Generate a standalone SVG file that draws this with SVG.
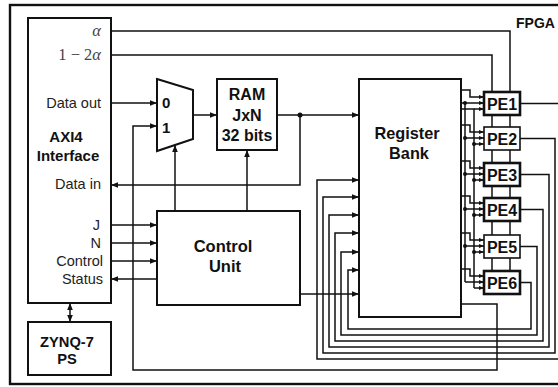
<svg xmlns="http://www.w3.org/2000/svg" width="558" height="387" viewBox="0 0 558 387">
<defs>
<marker id="ah" viewBox="0 0 10 10" refX="10" refY="5" markerWidth="7" markerHeight="7" orient="auto-start-reverse" markerUnits="userSpaceOnUse"><path d="M0,1 L10,5 L0,9 z" fill="#111"/></marker>
<marker id="as" viewBox="0 0 10 10" refX="10" refY="5" markerWidth="5" markerHeight="5" orient="auto" markerUnits="userSpaceOnUse"><path d="M0,1 L10,5 L0,9 z" fill="#111"/></marker>
<style>
.ln{fill:none;stroke:#111;stroke-width:1.5}
.a{marker-end:url(#ah)}
.s{marker-end:url(#as)}
.bx{fill:#fff;stroke:#111;stroke-width:2}
.pe{fill:#fff;stroke:#111;stroke-width:2.6}
.pt{fill:#fff;stroke:#111;stroke-width:1.6}
.t{font-family:"Liberation Sans",Arial,sans-serif;font-size:14.5px;fill:#222}
.b{font-family:"Liberation Sans",Arial,sans-serif;font-weight:bold;fill:#111}
.m{font-family:"Liberation Serif","Times New Roman",serif;font-size:16.5px;fill:#444}
.dot{fill:#111}
</style>
</defs>
<rect width="558" height="387" fill="#fff"/>
<g id="fpga">
<rect x="10" y="5" width="560" height="379" fill="none" stroke="#111" stroke-width="2.4"/>
<text class="b" x="516" y="28" font-size="14">FPGA</text>
</g>
<g id="connectors">
<path class="ln" d="M111,31 H510 V271"/>
<path class="ln" d="M111,55 H492 V271"/>
<path class="ln a" d="M111,103 H157"/>
<path class="ln a" d="M193,115 H217"/>
<path class="ln a" d="M277,115 H359"/>
<circle class="dot" cx="300" cy="115" r="2.5"/>
<path class="ln a" d="M300,115 V185 H111"/>
<path class="ln a" d="M175,211 V145"/>
<path class="ln a" d="M247,211 V150"/>
<path class="ln a" d="M111,225 H157"/>
<path class="ln a" d="M111,243 H157"/>
<path class="ln a" d="M111,261 H157"/>
<path class="ln a" d="M157,279 H111"/>
<path class="ln a" style="marker-start:url(#ah)" d="M70,303 V322"/>
<path class="ln a" d="M300,294 H359"/>
<path class="ln a" d="M461,304 H497 V370 H133 V126 H157"/>
<path class="ln a" d="M520,103.5 H566 V359 H317 V180 H359"/>
<path class="ln a" d="M520,138.5 H555 V353 H323 V197 H359"/>
<path class="ln a" d="M520,174.5 H549 V347 H329 V215 H359"/>
<path class="ln a" d="M520,209.5 H543 V341 H335 V233 H359"/>
<path class="ln a" d="M520,246.5 H537 V335 H341 V252 H359"/>
<path class="ln a" d="M520,282.5 H531 V329 H348 V270 H359"/>
<path class="ln" d="M465,103 V282"/>
<path class="ln" d="M461,109 H474 V288"/>
<path class="ln s" d="M461,90 H470 V97 H484"/>
<path class="ln s" d="M461,103 H484"/>
<path class="ln s" d="M474,109 H484"/>
<path class="ln s" d="M461,125 H470 V132 H484"/>
<path class="ln s" d="M465,138 H484"/>
<path class="ln s" d="M474,144 H484"/>
<path class="ln s" d="M461,161 H470 V168 H484"/>
<path class="ln s" d="M465,174 H484"/>
<path class="ln s" d="M474,180 H484"/>
<path class="ln s" d="M461,196 H470 V203 H484"/>
<path class="ln s" d="M465,209 H484"/>
<path class="ln s" d="M474,215 H484"/>
<path class="ln s" d="M461,233 H470 V240 H484"/>
<path class="ln s" d="M465,246 H484"/>
<path class="ln s" d="M474,252 H484"/>
<path class="ln s" d="M461,269 H470 V276 H484"/>
<path class="ln s" d="M465,282 H484"/>
<path class="ln s" d="M474,288 H484"/>
<circle class="dot" cx="465" cy="103" r="2"/>
<circle class="dot" cx="465" cy="138" r="2"/>
<circle class="dot" cx="465" cy="174" r="2"/>
<circle class="dot" cx="465" cy="209" r="2"/>
<circle class="dot" cx="465" cy="246" r="2"/>
<circle class="dot" cx="474" cy="144" r="2"/>
<circle class="dot" cx="474" cy="180" r="2"/>
<circle class="dot" cx="474" cy="215" r="2"/>
<circle class="dot" cx="474" cy="252" r="2"/>
</g>
<g id="axi4">
<rect class="bx" x="28" y="18" width="83" height="285"/>
<text class="m" x="101" y="36" text-anchor="end" font-style="italic">α</text>
<text class="m" x="101" y="60" text-anchor="end">1 − 2<tspan font-style="italic">α</tspan></text>
<text class="t" x="101" y="108" text-anchor="end">Data out</text>
<text class="b" x="66" y="142" font-size="15" text-anchor="middle">AXI4</text>
<text class="b" x="68" y="161" font-size="15" text-anchor="middle">Interface</text>
<text class="t" x="101" y="189" text-anchor="end">Data in</text>
<text class="t" x="100" y="230" text-anchor="end">J</text>
<text class="t" x="101" y="248" text-anchor="end">N</text>
<text class="t" x="103" y="266" text-anchor="end">Control</text>
<text class="t" x="103" y="284" text-anchor="end">Status</text>
</g>
<g id="zynq">
<rect class="bx" x="28" y="322" width="83" height="53"/>
<text class="b" x="67" y="347" font-size="14.7" text-anchor="middle">ZYNQ-7</text>
<text class="b" x="67" y="364" font-size="14.7" text-anchor="middle">PS</text>
</g>
<g id="mux">
<polygon class="bx" points="157,79 193,90 193,139 157,151"/>
<text class="b" x="162" y="108" font-size="15">0</text>
<text class="b" x="162" y="133" font-size="15">1</text>
</g>
<g id="ram">
<rect class="bx" x="217" y="79" width="60" height="71"/>
<text class="b" x="247" y="100" font-size="16" text-anchor="middle">RAM</text>
<text class="b" x="247" y="121" font-size="16" text-anchor="middle">JxN</text>
<text class="b" x="247" y="141" font-size="16" text-anchor="middle">32 bits</text>
</g>
<g id="control-unit">
<rect class="bx" x="157" y="211" width="143" height="94"/>
<text class="b" x="223" y="252" font-size="16.5" text-anchor="middle">Control</text>
<text class="b" x="225" y="272" font-size="16.5" text-anchor="middle">Unit</text>
</g>
<g id="register-bank">
<rect class="bx" x="359" y="79" width="102" height="238"/>
<text class="b" x="407" y="139" font-size="16.3" text-anchor="middle">Register</text>
<text class="b" x="409" y="159" font-size="16.3" text-anchor="middle">Bank</text>
</g>
<g id="pe1"><rect class="pe" x="484" y="92" width="36" height="23"/><text class="b" x="502" y="110" font-size="16" text-anchor="middle">PE1</text></g>
<g id="pe2"><rect class="pt" x="484" y="127" width="36" height="23"/><text class="b" x="502" y="145" font-size="16" text-anchor="middle">PE2</text></g>
<g id="pe3"><rect class="pe" x="484" y="163" width="36" height="23"/><text class="b" x="502" y="181" font-size="16" text-anchor="middle">PE3</text></g>
<g id="pe4"><rect class="pe" x="484" y="198" width="36" height="23"/><text class="b" x="502" y="216" font-size="16" text-anchor="middle">PE4</text></g>
<g id="pe5"><rect class="pt" x="484" y="235" width="36" height="23"/><text class="b" x="502" y="253" font-size="16" text-anchor="middle">PE5</text></g>
<g id="pe6"><rect class="pe" x="484" y="271" width="36" height="23"/><text class="b" x="502" y="289" font-size="16" text-anchor="middle">PE6</text></g>
</svg>
